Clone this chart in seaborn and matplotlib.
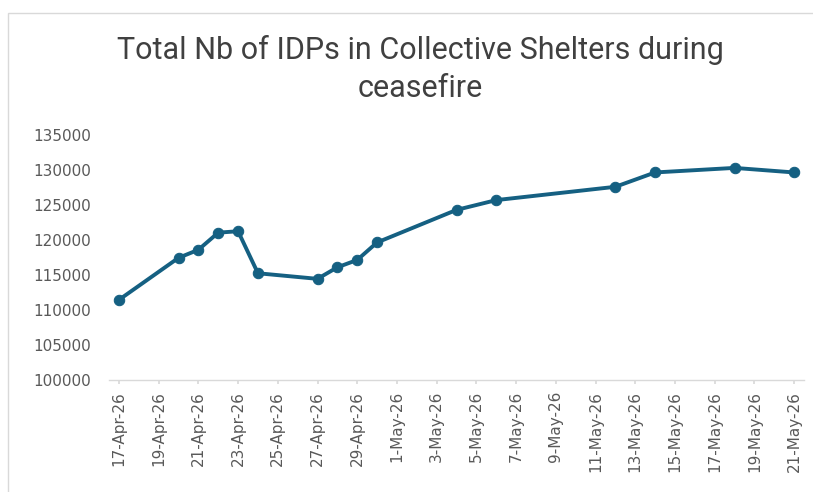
import matplotlib
matplotlib.use("Agg")
import matplotlib.pyplot as plt
import matplotlib.dates as mdates
from matplotlib.patches import Rectangle
import pandas as pd
import seaborn as sns

dates = ["2026-04-17", "2026-04-20", "2026-04-21", "2026-04-22", "2026-04-23",
         "2026-04-24", "2026-04-27", "2026-04-28", "2026-04-29", "2026-04-30",
         "2026-05-04", "2026-05-06", "2026-05-12", "2026-05-14", "2026-05-18",
         "2026-05-21"]
idps = [111450, 117450, 118600, 121050, 121250, 115250, 114450, 116100,
        117150, 119650, 124300, 125700, 127600, 129650, 130300, 129650]
title = "Total Nb of IDPs in Collective Shelters during\nceasefire"
y_ticks = [100000, 105000, 110000, 115000, 120000, 125000, 130000, 135000]

df = pd.DataFrame({"date": pd.to_datetime(dates), "idps": idps})

sns.set_theme(style="white")
plt.rcParams["font.family"] = ["DejaVu Sans"]

fig = plt.figure(figsize=(8.13, 4.92), dpi=100)
ax = fig.add_axes([109 / 813, 1 - 380 / 492, (804 - 109) / 813, (380 - 135) / 492])

color = "#156082"
sns.lineplot(data=df, x="date", y="idps", ax=ax, color=color, linewidth=2.8,
             marker="o", markersize=7.5, markeredgecolor=color,
             markerfacecolor=color)

ax.set_xlim(pd.Timestamp("2026-04-17") - pd.Timedelta(hours=12),
            pd.Timestamp("2026-05-21") + pd.Timedelta(hours=12))
ax.set_ylim(100000, 135000)
ax.set_yticks(y_ticks)
ax.set_yticklabels([str(v) for v in y_ticks])

ticks = pd.date_range("2026-04-17", "2026-05-21", freq="2D")
ax.set_xticks(ticks)
ax.set_xticklabels([f"{d.day}-{d.strftime('%b')}-{d.strftime('%y')}" for d in ticks],
                   rotation=90)

ax.set_xlabel("")
ax.set_ylabel("")
for s in ["top", "right", "left"]:
    ax.spines[s].set_visible(False)
ax.spines["bottom"].set_color("#d9d9d9")
ax.spines["bottom"].set_linewidth(1.0)
ax.tick_params(axis="x", length=3, color="#d9d9d9", pad=5, labelsize=11,
               labelcolor="#595959", bottom=True)
ax.tick_params(axis="y", length=0, pad=13, labelsize=11, labelcolor="#595959")
ax.grid(False)

fig.text(420 / 813, 1 - 69 / 492, title, ha="center", va="center",
         fontsize=22, color="#404040", linespacing=1.4,
         family=["Roboto", "DejaVu Sans"])

fig.patches.append(Rectangle((8 / 813, -0.05), 1.2, 1.05 - 13 / 492,
                             transform=fig.transFigure, fill=False,
                             edgecolor="#d9d9d9", linewidth=1.0))

fig.savefig("out.png", dpi=100)
